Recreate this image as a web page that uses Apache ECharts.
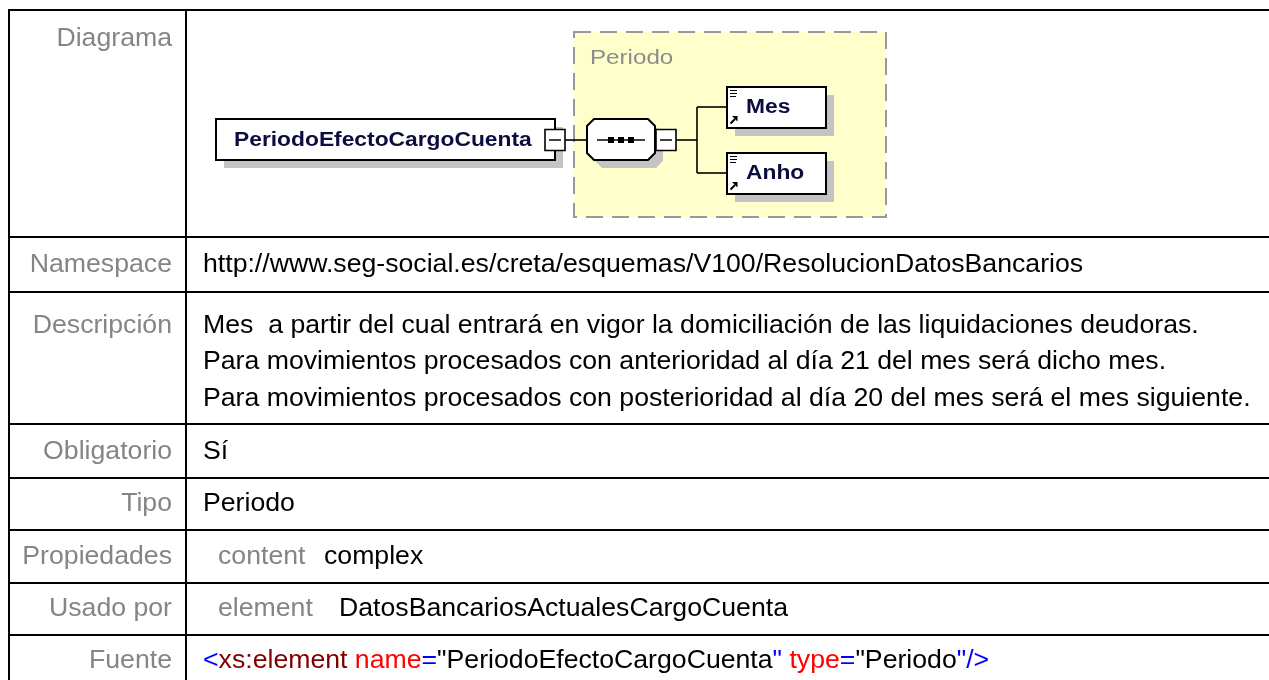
<!DOCTYPE html>
<html><head><meta charset="utf-8">
<script src="https://cdn.jsdelivr.net/npm/echarts@6/dist/echarts.min.js"></script>
<style>html,body{margin:0;padding:0;background:#fff}#c{width:1269px;height:680px}</style>
</head><body><div id="c"></div>
<script>
// ---- content ----
const rowLabels = ['Diagrama', 'Namespace', 'Descripción', 'Obligatorio', 'Tipo', 'Propiedades', 'Usado por', 'Fuente'];
const namespaceValue = 'http://www.seg-social.es/creta/esquemas/V100/ResolucionDatosBancarios';
const descripcionLines = [
  'Mes  a partir del cual entrará en vigor la domiciliación de las liquidaciones deudoras.',
  'Para movimientos procesados con anterioridad al día 21 del mes será dicho mes.',
  'Para movimientos procesados con posterioridad al día 20 del mes será el mes siguiente.'
];
const obligatorioValue = 'Sí';
const tipoValue = 'Periodo';
const propiedadesPair = ['content', 'complex'];
const usadoPorPair = ['element', 'DatosBancariosActualesCargoCuenta'];
const fuenteTokens = [
  ['bl', '<'], ['tg', 'xs:element'], ['at', ' name'], ['bl', '='], ['vl', '"PeriodoEfectoCargoCuenta'],
  ['bl', '"'], ['at', ' type'], ['bl', '='], ['vl', '"Periodo'], ['bl', '"/>']
];
const diagramRoot = 'PeriodoEfectoCargoCuenta';
const diagramTypeName = 'Periodo';
const diagramChildren = ['Mes', 'Anho'];

// ---- layout ----
const W = 1269;
const rowTops = [10, 237, 292, 424, 478, 530, 583, 635];
const labelY = [39, 265, 326, 452, 504, 557, 609, 661];
const descY = [326, 362, 399];
const LABEL_RIGHT = 172, VALUE_X = 203, DIV_X = 186;
const TF = '"Liberation Sans", Arial, sans-serif';
const TS = 26.67, TX = 1;
const LABEL_COL = '#858585';

const g = [];
function txt(x, y, s, o) {
  o = o || {};
  const size = o.size || TS, weight = o.weight || 'normal';
  g.push({
    type: 'text', x: x, y: y, scaleX: o.sx || TX, silent: true, z: o.z || 10,
    style: {
      text: s, fill: o.fill || '#000', fontSize: size, fontFamily: o.family || TF, fontWeight: weight,
      font: weight + ' ' + size + 'px ' + (o.family || TF),
      textAlign: o.align || 'left', align: o.align || 'left',
      textVerticalAlign: 'middle', verticalAlign: 'middle', rich: o.rich
    }
  });
}
function rect(x, y, w, h, style, z) {
  g.push({ type: 'rect', silent: true, z: z || 5, shape: { x: x, y: y, width: w, height: h }, style: style });
}
function line(x1, y1, x2, y2, w, col, z) {
  g.push({ type: 'line', silent: true, z: z || 6, shape: { x1: x1, y1: y1, x2: x2, y2: y2 }, style: { stroke: col || '#000', lineWidth: w || 2 } });
}
function poly(pts, style, z) {
  g.push({ type: 'polygon', silent: true, z: z || 5, shape: { points: pts }, style: style });
}

// table grid
rowTops.forEach(function (y) { rect(8, y - 1, W - 8, 2, { fill: '#000' }, 20); });
rect(8, 9, 2, 680, { fill: '#000' }, 20);
rect(DIV_X - 1, 9, 2, 680, { fill: '#000' }, 20);

// labels
rowLabels.forEach(function (l, i) { txt(LABEL_RIGHT, labelY[i], l, { fill: LABEL_COL, align: 'right' }); });

// values
txt(VALUE_X, labelY[1], namespaceValue);
descripcionLines.forEach(function (l, i) { txt(VALUE_X, descY[i], l); });
txt(VALUE_X, labelY[3], obligatorioValue);
txt(VALUE_X, labelY[4], tipoValue);
txt(218, labelY[5], propiedadesPair[0], { fill: LABEL_COL });
txt(324, labelY[5], propiedadesPair[1]);
txt(218, labelY[6], usadoPorPair[0], { fill: LABEL_COL });
txt(339, labelY[6], usadoPorPair[1]);
const richCols = { bl: '#0000ff', tg: '#800000', at: '#ff0000', vl: '#000000' };
const rich = {};
Object.keys(richCols).forEach(function (k) { rich[k] = { fill: richCols[k], color: richCols[k], fontSize: TS, fontFamily: TF }; });
txt(VALUE_X, labelY[7], fuenteTokens.map(function (t) { return '{' + t[0] + '|' + t[1] + '}'; }).join(''), { rich: rich });

// ---- diagram ----
const SH = '#c4c4c4', DF = '"Liberation Sans", Arial, sans-serif', DSX = 1.14, DS = 20, DCOL = '#0c0c40';
// type box (dashed, yellow)
rect(574, 32, 312, 185, { fill: '#ffffcc', stroke: '#999999', lineWidth: 2, lineDash: [17, 9] }, 2);
txt(590, 58, diagramTypeName, { fill: '#8c8c8c', size: 21, sx: 1.15, family: DF });

// root element box
rect(224, 127, 339, 41, { fill: SH }, 3);
rect(216, 119, 339, 41, { fill: '#fff', stroke: '#000', lineWidth: 2 }, 4);
txt(234, 140, diagramRoot, { fill: DCOL, size: DS, sx: DSX, weight: 'bold', family: DF });
// minus box root
rect(545, 129.5, 20, 21, { fill: '#fff', stroke: '#000', lineWidth: 1.6 }, 7);
line(549, 140, 561, 140, 1.5, '#000', 8);
line(565, 140, 587, 140, 1.6);

// sequence octagon
const oc = function (dx, dy) {
  const L = 587 + dx, R = 655 + dx, T = 119 + dy, B = 160 + dy, c = 7;
  return [[L + c, T], [R - c, T], [R, T + c], [R, B - c], [R - c, B], [L + c, B], [L, B - c], [L, T + c]];
};
poly(oc(8, 8), { fill: SH }, 3);
poly(oc(0, 0), { fill: '#fff', stroke: '#000', lineWidth: 2 }, 4);
line(597, 140, 645, 140, 1.6);
[611, 621, 631].forEach(function (cx) { rect(cx - 3, 137, 6, 6, { fill: '#000' }, 7); });
// minus box seq
rect(656, 129.5, 20, 21, { fill: '#fff', stroke: '#000', lineWidth: 1.6 }, 7);
line(660, 140, 672, 140, 1.5, '#000', 8);
line(676, 140, 697, 140, 1.6);
line(697, 107, 697, 173, 1.6);

// children
diagramChildren.forEach(function (name, i) {
  const top = 87 + i * 66, L = 727;
  line(697, top + 20, L, top + 20, 1.6);
  rect(L + 8, top + 8, 99, 41, { fill: SH }, 3);
  rect(L, top, 99, 41, { fill: '#fff', stroke: '#000', lineWidth: 2 }, 4);
  [3, 6, 9].forEach(function (dy, k) { line(L + 3, top + dy + 0.5, L + (k === 2 ? 9 : 10), top + dy + 0.5, 1, '#000', 7); });
  line(L + 3.5, top + 36.5, L + 8, top + 32, 2, '#000', 7);
  poly([[L + 5, top + 29], [L + 10.5, top + 29], [L + 10.5, top + 34.5]], { fill: '#000' }, 7);
  txt(L + 19, top + 20.5, name, { fill: DCOL, size: DS, sx: DSX, weight: 'bold', family: DF });
});

const chart = echarts.init(document.getElementById('c'), null, { renderer: 'canvas' });
chart.setOption({ backgroundColor: '#ffffff', animation: false, graphic: { elements: g } });
</script></body></html>
